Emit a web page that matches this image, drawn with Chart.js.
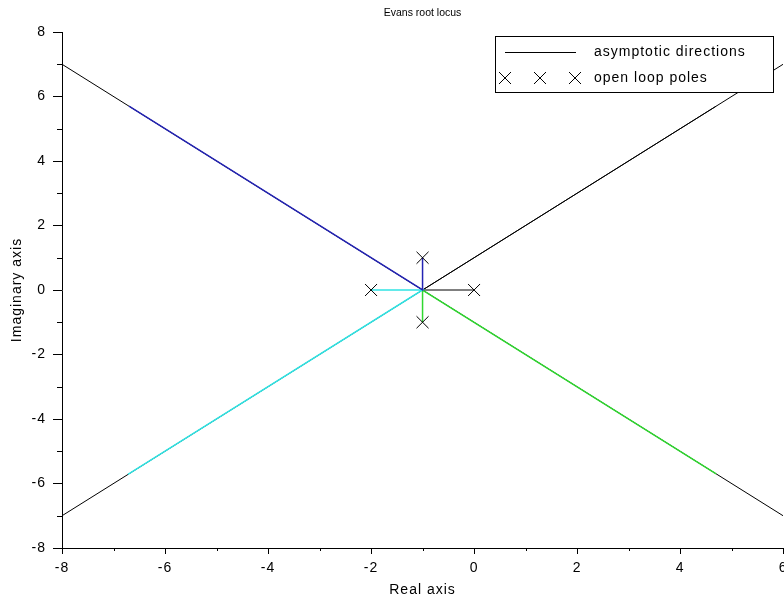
<!DOCTYPE html>
<html>
<head>
<meta charset="utf-8">
<script src="https://cdn.jsdelivr.net/npm/chart.js@4.4.1/dist/chart.umd.min.js"></script>
<style>
  html, body { margin: 0; padding: 0; background: #fff; overflow: hidden; }
  #wrap { width: 784px; height: 600px; overflow: hidden; }
  canvas { display: block; }
</style>
</head>
<body>
<div id="wrap"><canvas id="locus" width="784" height="600"></canvas></div>
<script>
// Axis tick values
const xTicks = [-8, -6, -4, -2, 0, 2, 4, 6];
const yTicks = [-8, -6, -4, -2, 0, 2, 4, 6, 8];

// Open loop poles of the system
const openLoopPoles = [
  { x: 0, y: 0 }, { x: -2, y: 0 }, { x: -1, y: 1 }, { x: -1, y: -1 }
];

// Asymptotic directions through the centroid (-1, 0)
const asymptoteDown = [{ x: -8, y: 7 }, { x: 6, y: -7 }];
const asymptoteUp = [{ x: -8, y: -7 }, { x: 6, y: 7 }];

// Root locus branches, one per pole
const branchBlack = [{ x: 0, y: 0 }, { x: -1, y: 0 }, { x: 4.7, y: 5.7 }];
const branchCyan = [{ x: -2, y: 0 }, { x: -1, y: 0 }, { x: -6.72, y: -5.72 }];
const branchBlue = [{ x: -1, y: 1 }, { x: -1, y: 0 }, { x: -6.7, y: 5.7 }];
const branchGreen = [{ x: -1, y: -1 }, { x: -1, y: 0 }, { x: 4.7, y: -5.7 }];

const chartTitle = 'Evans root locus';
const legendLabels = ['asymptotic directions', 'open loop poles'];

const FONT = '"Liberation Sans", Arial, sans-serif';
const PLOT_RIGHT = 783;

function lineSet(data, color, width, order) {
  return {
    data, showLine: true, borderColor: color, borderWidth: width,
    pointRadius: 0, fill: false, tension: 0, order
  };
}

// Wider letter spacing for all axis text
const spacing = {
  id: 'spacing',
  beforeDraw(chart) { chart.ctx.letterSpacing = '1px'; }
};

// Shorter unlabeled ticks halfway between the labeled ones
const minorTicks = {
  id: 'minorTicks',
  afterDraw(chart) {
    const { ctx, chartArea: a } = chart;
    const xs = chart.scales.x, ys = chart.scales.y;
    ctx.save();
    ctx.strokeStyle = '#000';
    ctx.lineWidth = 1;
    ctx.beginPath();
    for (let i = 0; i < xTicks.length - 1; i++) {
      const px = Math.round(xs.getPixelForValue((xTicks[i] + xTicks[i + 1]) / 2)) + 0.5;
      ctx.moveTo(px, a.bottom);
      ctx.lineTo(px, a.bottom + 3);
    }
    for (let i = 0; i < yTicks.length - 1; i++) {
      const py = Math.round(ys.getPixelForValue((yTicks[i] + yTicks[i + 1]) / 2)) + 0.5;
      ctx.moveTo(a.left - 5, py);
      ctx.lineTo(a.left, py);
    }
    ctx.stroke();
    ctx.restore();
  }
};

// Title centred over the plot, and a boxed legend in the upper right corner
const titleAndLegend = {
  id: 'titleAndLegend',
  afterDatasetsDraw(chart) {
    const ctx = chart.ctx;
    const a = chart.chartArea;
    ctx.save();
    ctx.letterSpacing = '0px';
    ctx.fillStyle = '#000';
    ctx.font = '10.5px ' + FONT;
    ctx.textAlign = 'center';
    ctx.textBaseline = 'middle';
    ctx.fillText(chartTitle, (a.left + a.right) / 2, 13);

    ctx.fillStyle = '#fff';
    ctx.strokeStyle = '#000';
    ctx.lineWidth = 1;
    ctx.fillRect(495.5, 36.5, 278, 56);
    ctx.strokeRect(495.5, 36.5, 278, 56);
    ctx.beginPath();
    ctx.moveTo(505, 52.5);
    ctx.lineTo(576, 52.5);
    const h = 6;
    [505, 540, 575].forEach(cx => {
      ctx.moveTo(cx - h, 78 - h); ctx.lineTo(cx + h, 78 + h);
      ctx.moveTo(cx - h, 78 + h); ctx.lineTo(cx + h, 78 - h);
    });
    ctx.stroke();
    ctx.fillStyle = '#000';
    ctx.letterSpacing = '1px';
    ctx.font = '14px ' + FONT;
    ctx.textAlign = 'left';
    ctx.fillText(legendLabels[0], 594, 52);
    ctx.fillText(legendLabels[1], 594, 78);
    ctx.restore();
  }
};

const tickFont = { family: FONT, size: 14 };

function buildConfig() {
  return {
    type: 'scatter',
    data: {
      datasets: [
        {
          data: openLoopPoles, pointStyle: 'crossRot', pointRadius: 8.5,
          borderColor: '#000', borderWidth: 1, showLine: false, order: 0
        },
        lineSet(branchBlue, '#2424b4', 1.5, 1),
        lineSet(branchCyan, '#30e4e4', 1.5, 1),
        lineSet(branchGreen, '#30d830', 1.5, 1),
        lineSet(branchBlack, '#000', 1, 1),
        lineSet(asymptoteDown, '#000', 1, 2),
        lineSet(asymptoteUp, '#000', 1, 2)
      ]
    },
    options: {
      responsive: false,
      animation: false,
      devicePixelRatio: 1,
      layout: { padding: { left: 0, right: 1, top: 32, bottom: 0 } },
      plugins: {
        legend: { display: false },
        tooltip: { enabled: false },
        title: { display: false }
      },
      scales: {
        x: {
          type: 'linear', min: -8, max: 6,
          afterBuildTicks: s => { s.ticks = xTicks.map(v => ({ value: v })); },
          afterFit: s => { s.height = 52; },
          grid: { display: true, drawOnChartArea: false, drawTicks: true, tickLength: 6, tickColor: '#000', tickWidth: 1 },
          border: { display: true, color: '#000', width: 1 },
          ticks: { color: '#000', font: tickFont, padding: 6, maxRotation: 0, autoSkip: false },
          title: { display: true, text: 'Real axis', color: '#000', font: tickFont, padding: { top: 0, bottom: 1.5 } }
        },
        y: {
          type: 'linear', min: -8, max: 8,
          afterBuildTicks: s => { s.ticks = yTicks.map(v => ({ value: v })); },
          afterFit: s => { s.width = 62; s.paddingTop = 0; s.paddingBottom = 0; },
          grid: { display: true, drawOnChartArea: false, drawTicks: true, tickLength: 9, tickColor: '#000', tickWidth: 1 },
          border: { display: true, color: '#000', width: 1 },
          ticks: { color: '#000', font: tickFont, padding: 7, autoSkip: false },
          title: { display: true, text: 'Imaginary axis', color: '#000', font: tickFont, padding: { top: 9, bottom: 0 } }
        }
      }
    },
    plugins: [spacing, minorTicks, titleAndLegend]
  };
}

const canvas = document.getElementById('locus');
let chart = new Chart(canvas, buildConfig());

// Let the plot run to the right edge; the last x label is clipped by the wrapper
const extra = Math.round(PLOT_RIGHT - chart.chartArea.right);
if (extra > 0) {
  chart.destroy();
  canvas.width = 784 + extra;
  canvas.height = 600;
  canvas.style.width = (784 + extra) + 'px';
  canvas.style.height = '600px';
  chart = new Chart(canvas, buildConfig());
}
</script>
</body>
</html>
